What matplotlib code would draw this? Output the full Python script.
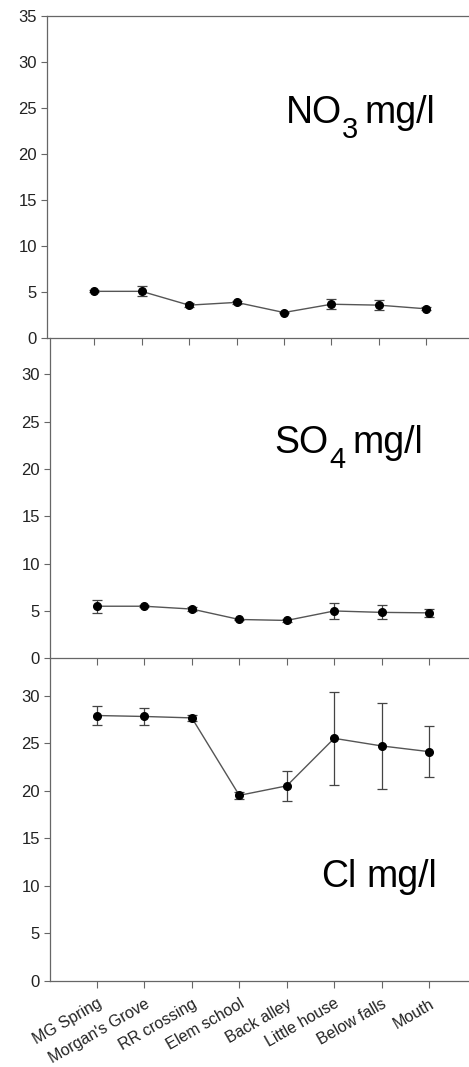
import matplotlib
matplotlib.use("Agg")
import matplotlib.pyplot as plt

plt.rcParams['font.family'] = ['Liberation Sans', 'DejaVu Sans']

sites = ["MG Spring", "Morgan's Grove", "RR crossing", "Elem school",
         "Back alley", "Little house", "Below falls", "Mouth"]

no3 = [5.1, 5.1, 3.6, 3.9, 2.8, 3.7, 3.6, 3.2]
no3_err = [0.1, 0.55, 0.25, 0.15, 0.1, 0.55, 0.55, 0.15]

so4 = [5.5, 5.5, 5.2, 4.1, 4.0, 5.0, 4.85, 4.8]
so4_err = [0.7, 0.1, 0.25, 0.1, 0.15, 0.8, 0.75, 0.4]

cl = [27.9, 27.8, 27.65, 19.5, 20.5, 25.5, 24.7, 24.1]
cl_err = [1.0, 0.9, 0.3, 0.4, 1.55, 4.9, 4.5, 2.67]

# label pieces: (main, subscript, rest)
label_parts = [("NO", "3", "mg/l"), ("SO", "4", "mg/l"), ("Cl", None, "mg/l")]

W, H = 469, 1067
fig = plt.figure(figsize=(W / 100, H / 100), dpi=100)

# (left_px, top_px, bottom_px, ymax)
panels = [
    (46.7, 16, 338.3, 35),
    (49.5, 338.3, 658.3, 33.8),
    (49.5, 658.5, 980.7, 33.9),
]
# label piece positions in px: (main_x, sub_x, rest_x, baseline_y, sub_baseline_y)
label_pos = [
    (285.5, 342, 364.3, 123, 138.3),
    (274.7, 329, 352.6, 453.3, 468.3),
    (321.3, None, 366, 886.7, None),
]
series = [(no3, no3_err), (so4, so4_err), (cl, cl_err)]

spine_col = "#666666"
text_col = "#222222"
x = list(range(len(sites)))

for i, ((lpx, tpx, bpx, ymax), (vals, errs)) in enumerate(zip(panels, series)):
    ax = fig.add_axes([lpx / W, 1 - bpx / H, (W - lpx) / W, (bpx - tpx) / H])
    spacing = 47.45
    xmax = -1 + (W - lpx) / spacing
    ax.errorbar(x, vals, yerr=errs, color="#555555", lw=1.0, marker="o",
                markersize=5.5, markerfacecolor="black", markeredgecolor="black",
                ecolor="#444444", elinewidth=0.9, capsize=3.5, capthick=0.9)
    ax.set_xlim(-1, xmax)
    ax.set_ylim(0, ymax)
    ax.set_yticks([0, 5, 10, 15, 20, 25, 30] + ([35] if i == 0 else []))
    ax.set_xticks(x)
    if i == 2:
        ax.set_xticklabels(sites, rotation=30, ha="right", rotation_mode="anchor",
                           fontsize=11.5, color=text_col)
    else:
        ax.set_xticklabels([])
    ax.tick_params(axis="y", direction="out", length=4, width=0.8, colors=spine_col,
                   labelcolor=text_col, labelsize=12, pad=3)
    ax.tick_params(axis="x", direction="out", length=5, width=0.8, colors=spine_col,
                   labelcolor=text_col, pad=6)
    ax.spines["right"].set_visible(False)
    ax.spines["top"].set_visible(i == 0)
    for s in ax.spines.values():
        s.set_color(spine_col)
        s.set_linewidth(0.9)
    ax.patch.set_alpha(0)

    main, sub, rest = label_parts[i]
    mx, sx, rx, by, sby = label_pos[i]
    fig.text(mx / W, 1 - by / H, main, fontsize=27, color="black",
             ha="left", va="baseline")
    if sub:
        fig.text(sx / W, 1 - sby / H, sub, fontsize=21, color="black",
                 ha="left", va="baseline")
    fig.text(rx / W, 1 - by / H, rest, fontsize=27, color="black",
             ha="left", va="baseline")

fig.savefig("out.png", dpi=100)
